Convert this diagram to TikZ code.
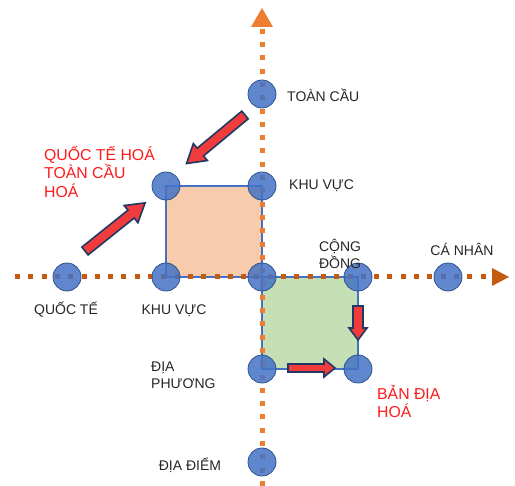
\documentclass[tikz,border=0pt]{standalone}
\usepackage{fontspec}
\setmainfont{Liberation Sans}
\definecolor{vaxis}{HTML}{ED7D31}
\definecolor{haxis}{HTML}{C55A11}
\definecolor{dotfill}{HTML}{4472C4}
\definecolor{dotline}{HTML}{2F528F}
\definecolor{peach}{HTML}{F8CBAD}
\definecolor{lgreen}{HTML}{C5E0B4}
\definecolor{arrred}{HTML}{F03C3C}
\definecolor{arrline}{HTML}{203864}
\definecolor{lbl}{HTML}{262626}
\definecolor{redlbl}{HTML}{FF1A1A}
\newcommand{\blockarr}[8]{%
  \begin{scope}[shift={(#1,#2)},rotate=#3]
    \draw[blockarrow] (0,-#5) -- (#4-#7,-#5) -- (#4-#7,-#6) -- (#4,0) -- (#4-#7,#6) -- (#4-#7,#5) -- (0,#5) -- cycle;
  \end{scope}}
\begin{document}
\begin{tikzpicture}[x=1pt,y=-1pt,
  dotnode/.style={circle,minimum size=28pt,inner sep=0pt,fill=dotfill,fill opacity=0.85,draw=dotline,line width=0.8pt},
  axisline/.style={line width=5pt,dash pattern=on 5pt off 8.3pt},
  blockarrow/.style={fill=arrred,draw=arrline,line width=1.6pt,line join=miter},
  lab/.style={font=\fontsize{14}{17}\selectfont,text=lbl,inner sep=0pt},
  redlab/.style={font=\fontsize{15.8}{18.5}\selectfont,text=redlbl,inner sep=0pt,align=left},
  sq/.style={draw=dotfill,line width=1.4pt}]
\useasboundingbox (0,0) rectangle (515,486);
% squares
\fill[peach] (166,186) rectangle (262,277);
\draw[sq] (166,186) rectangle (262,277);
\fill[lgreen] (262,277) rectangle (358,369);
\draw[sq] (262,277) rectangle (358,369);
% axes
\coordinate (vbot) at (262,486);
\coordinate (vtop) at (262,26);
\coordinate (vtip) at (262,8);
\coordinate (hleft) at (15,277);
\coordinate (hright) at (492,277);
\coordinate (htip) at (509,277);
\draw[axisline,vaxis] (vbot) -- (vtop);
\fill[vaxis] (vtip) -- (251,27) -- (273,27) -- cycle;
\draw[axisline,haxis] (hleft) -- (hright);
\fill[haxis] (htip) -- (492,268) -- (492,286) -- cycle;
% circles
\node[dotnode] (toan) at (262,94) {};
\node[dotnode] (kvtop) at (262,186) {};
\node[dotnode] (tl) at (166,186) {};
\node[dotnode] (center) at (262,277) {};
\node[dotnode] (kvleft) at (166,277) {};
\node[dotnode] (quocte) at (67,277) {};
\node[dotnode] (congdong) at (358,277) {};
\node[dotnode] (canhan) at (448,277) {};
\node[dotnode] (diaphuong) at (262,369) {};
\node[dotnode] (bandia) at (358,369) {};
\node[dotnode] (diadiem) at (262,462) {};
% block arrows
\blockarr{85}{251}{38.7}{77}{5}{11}{18}{}
\blockarr{245}{115}{219.7}{76}{5}{11}{18}{}
\blockarr{358}{306}{-90}{34}{5}{9}{12}{}
\blockarr{288}{368}{0}{47}{4}{9}{11}{}
% labels
\node[lab,anchor=west] (ltoan) at (287,95) {TOÀN CẦU};
\node[lab,anchor=west] (lkvtop) at (289,186) {KHU VỰC};
\node[lab,align=center] (lcong) at (340,254) {CỘNG\\ĐỒNG};
\node[lab] (lcanhan) at (462,249) {CÁ NHÂN};
\node[lab] (lquocte) at (66,310) {QUỐC TẾ};
\node[lab] (lkvleft) at (174,311) {KHU VỰC};
\node[lab,align=left,anchor=west] (ldiap) at (151,375) {ĐỊA\\PHƯƠNG};
\node[lab] (ldiad) at (190,465) {ĐỊA ĐIỂM};
\node[redlab,anchor=north west] (lqt) at (44,146) {QUỐC TẾ HOÁ\\TOÀN CẦU\\HOÁ};
\node[redlab,anchor=north west] (lbd) at (377,385) {BẢN ĐỊA\\HOÁ};
\end{tikzpicture}
\end{document}
